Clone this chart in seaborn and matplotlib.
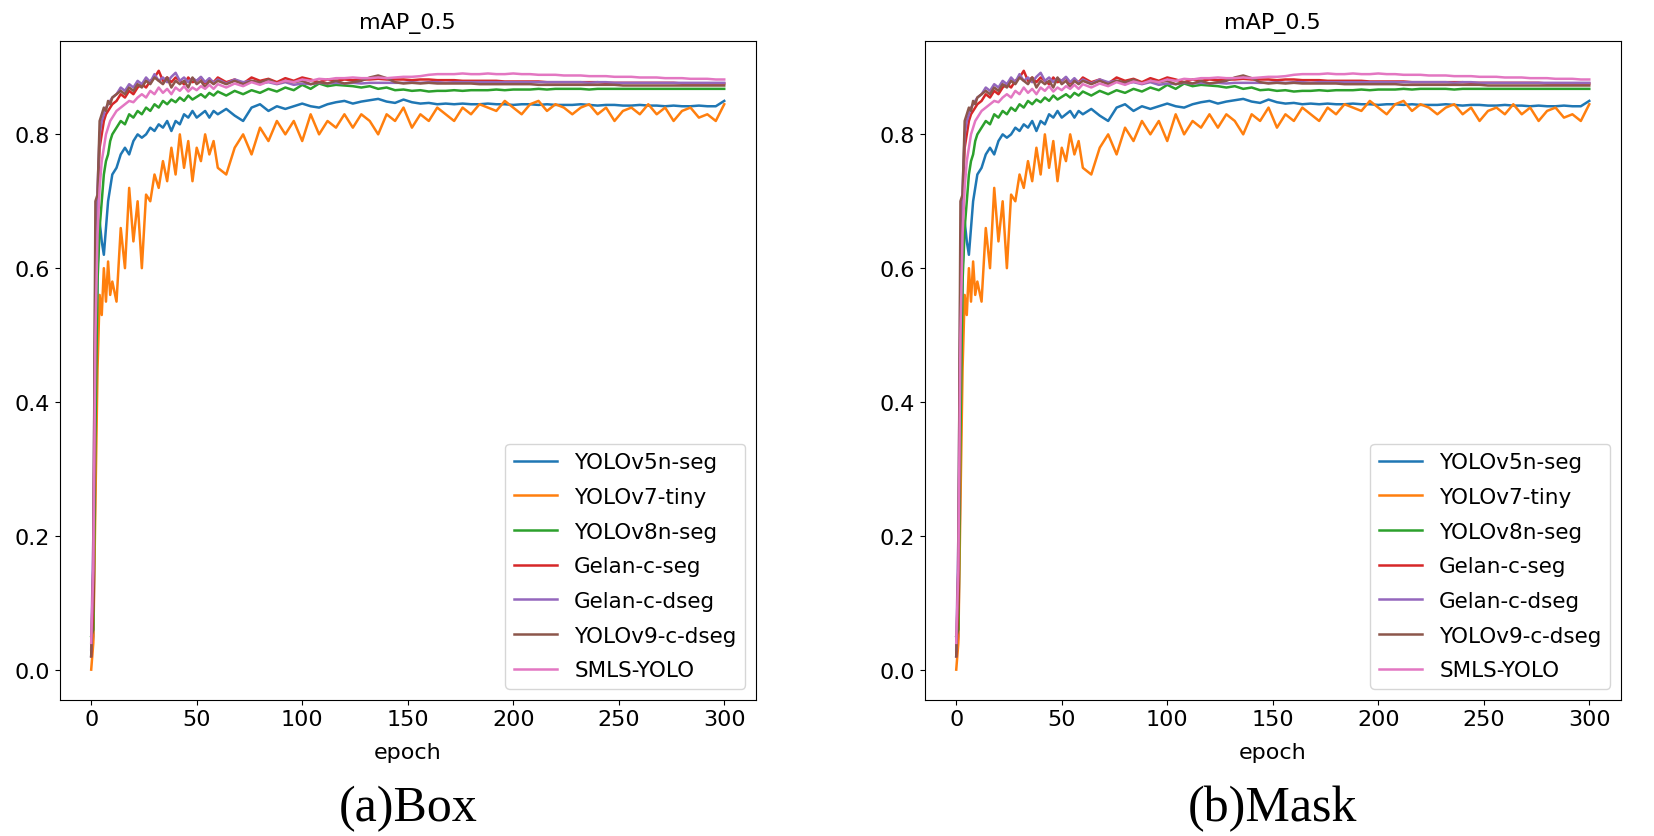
import numpy as np
import pandas as pd
import seaborn as sns
from matplotlib import pyplot as plt

epochs = np.concatenate([np.arange(0, 11), np.arange(12, 61, 2), np.arange(64, 301, 4)])

models = ['YOLOv5n-seg', 'YOLOv7-tiny', 'YOLOv8n-seg', 'Gelan-c-seg',
          'Gelan-c-dseg', 'YOLOv9-c-dseg', 'SMLS-YOLO']

yolov5n = [0.02, 0.05, 0.30, 0.60, 0.67, 0.64, 0.62, 0.66, 0.70, 0.72, 0.74,
           0.75, 0.77, 0.78, 0.77, 0.79, 0.80, 0.795, 0.80, 0.81, 0.805,
           0.815, 0.81, 0.82, 0.805, 0.82, 0.815, 0.83, 0.825, 0.835, 0.825,
           0.83, 0.835, 0.825, 0.835, 0.83,
           0.838, 0.828, 0.82, 0.84, 0.845, 0.835, 0.842, 0.838, 0.842, 0.846,
           0.842, 0.84, 0.845, 0.848, 0.85, 0.846, 0.849, 0.851, 0.853, 0.849,
           0.847, 0.852, 0.848, 0.846, 0.847, 0.845, 0.846, 0.845, 0.846, 0.845,
           0.845, 0.846, 0.845, 0.845, 0.844, 0.845, 0.845, 0.844, 0.845, 0.844,
           0.844, 0.844, 0.845, 0.844, 0.843, 0.844, 0.844, 0.843, 0.843, 0.844,
           0.843, 0.843, 0.842, 0.843, 0.842, 0.842, 0.843, 0.842, 0.842, 0.850]

yolov7_tiny = [0.00, 0.04, 0.25, 0.45, 0.56, 0.53, 0.60, 0.55, 0.61, 0.56, 0.58,
               0.55, 0.66, 0.60, 0.72, 0.64, 0.70, 0.60, 0.71, 0.70, 0.74,
               0.72, 0.76, 0.73, 0.78, 0.74, 0.80, 0.75, 0.79, 0.73, 0.78,
               0.76, 0.80, 0.77, 0.79, 0.75,
               0.74, 0.78, 0.80, 0.77, 0.81, 0.79, 0.82, 0.80, 0.82, 0.79,
               0.83, 0.80, 0.82, 0.81, 0.83, 0.81, 0.83, 0.82, 0.80, 0.83,
               0.82, 0.84, 0.81, 0.83, 0.82, 0.84, 0.83, 0.82, 0.84, 0.83,
               0.845, 0.84, 0.835, 0.85, 0.84, 0.83, 0.845, 0.85, 0.835, 0.845,
               0.84, 0.83, 0.84, 0.845, 0.83, 0.84, 0.82, 0.835, 0.84, 0.83,
               0.845, 0.83, 0.84, 0.82, 0.835, 0.84, 0.825, 0.83, 0.82, 0.845]

yolov8n = [0.05, 0.06, 0.35, 0.58, 0.66, 0.70, 0.74, 0.76, 0.77, 0.79, 0.80,
           0.81, 0.82, 0.815, 0.83, 0.825, 0.835, 0.83, 0.84, 0.835, 0.845,
           0.84, 0.85, 0.845, 0.852, 0.848, 0.855, 0.85, 0.858, 0.852, 0.856,
           0.86, 0.855, 0.862, 0.858, 0.864,
           0.858, 0.865, 0.86, 0.866, 0.862, 0.868, 0.864, 0.87, 0.866, 0.874,
           0.868, 0.876, 0.872, 0.874, 0.873, 0.872, 0.87, 0.872, 0.868, 0.87,
           0.866, 0.867, 0.865, 0.866, 0.864, 0.865, 0.865, 0.866, 0.865, 0.866,
           0.866, 0.866, 0.867, 0.866, 0.867, 0.867, 0.867, 0.868, 0.867, 0.868,
           0.868, 0.868, 0.868, 0.867, 0.868, 0.868, 0.868, 0.868, 0.868, 0.868,
           0.868, 0.868, 0.868, 0.868, 0.868, 0.868, 0.868, 0.868, 0.868, 0.868]

gelan_seg = [0.02, 0.10, 0.55, 0.70, 0.78, 0.80, 0.82, 0.83, 0.835, 0.84, 0.845,
             0.85, 0.86, 0.855, 0.865, 0.86, 0.87, 0.875, 0.87, 0.88, 0.885,
             0.895, 0.88, 0.885, 0.878, 0.885, 0.88, 0.875, 0.885, 0.878, 0.88,
             0.885, 0.876, 0.882, 0.878, 0.885,
             0.878, 0.882, 0.876, 0.885, 0.88, 0.883, 0.878, 0.884, 0.88, 0.885,
             0.882, 0.878, 0.882, 0.88, 0.882, 0.881, 0.882, 0.882, 0.883, 0.882,
             0.882, 0.882, 0.881, 0.882, 0.882, 0.881, 0.881, 0.881, 0.880, 0.880,
             0.880, 0.880, 0.880, 0.879, 0.879, 0.879, 0.879, 0.879, 0.878, 0.878,
             0.878, 0.878, 0.878, 0.878, 0.878, 0.877, 0.877, 0.877, 0.877, 0.877,
             0.877, 0.877, 0.877, 0.877, 0.876, 0.876, 0.876, 0.876, 0.876, 0.876]

gelan_dseg = [0.03, 0.20, 0.60, 0.72, 0.80, 0.82, 0.83, 0.84, 0.845, 0.85, 0.855,
              0.86, 0.87, 0.865, 0.875, 0.87, 0.88, 0.875, 0.885, 0.878, 0.89,
              0.88, 0.885, 0.878, 0.886, 0.892, 0.88, 0.885, 0.878, 0.884, 0.88,
              0.886, 0.878, 0.884, 0.877, 0.882,
              0.876, 0.882, 0.878, 0.88, 0.876, 0.878, 0.875, 0.878, 0.874, 0.876,
              0.875, 0.877, 0.876, 0.877, 0.876, 0.877, 0.876, 0.877, 0.877, 0.877,
              0.877, 0.877, 0.878, 0.877, 0.878, 0.878, 0.877, 0.878, 0.878, 0.878,
              0.878, 0.878, 0.878, 0.878, 0.878, 0.878, 0.878, 0.878, 0.878, 0.878,
              0.878, 0.878, 0.878, 0.877, 0.878, 0.878, 0.877, 0.877, 0.877, 0.877,
              0.877, 0.877, 0.877, 0.877, 0.877, 0.877, 0.877, 0.877, 0.877, 0.877]

yolov9_dseg = [0.02, 0.15, 0.70, 0.71, 0.82, 0.83, 0.84, 0.835, 0.85, 0.845, 0.855,
               0.86, 0.865, 0.86, 0.87, 0.865, 0.875, 0.87, 0.88, 0.875, 0.885,
               0.88, 0.875, 0.885, 0.87, 0.88, 0.875, 0.88, 0.87, 0.885, 0.875,
               0.88, 0.87, 0.88, 0.875, 0.88,
               0.875, 0.88, 0.875, 0.88, 0.878, 0.882, 0.876, 0.88, 0.878, 0.88,
               0.875, 0.878, 0.876, 0.88, 0.876, 0.878, 0.88, 0.885, 0.888, 0.884,
               0.878, 0.876, 0.877, 0.876, 0.877, 0.876, 0.876, 0.876, 0.876, 0.876,
               0.875, 0.875, 0.875, 0.875, 0.875, 0.875, 0.875, 0.874, 0.874, 0.874,
               0.874, 0.874, 0.874, 0.874, 0.874, 0.874, 0.874, 0.873, 0.873, 0.873,
               0.873, 0.873, 0.873, 0.873, 0.873, 0.873, 0.873, 0.873, 0.873, 0.873]

smls_yolo = [0.04, 0.15, 0.50, 0.65, 0.72, 0.76, 0.78, 0.80, 0.81, 0.82, 0.825,
             0.835, 0.84, 0.845, 0.85, 0.848, 0.855, 0.86, 0.855, 0.865, 0.86,
             0.87, 0.862, 0.868, 0.86, 0.87, 0.865, 0.872, 0.864, 0.87, 0.866,
             0.872, 0.868, 0.874, 0.868, 0.875,
             0.87, 0.876, 0.872, 0.878, 0.874, 0.879, 0.876, 0.88, 0.878, 0.882,
             0.88, 0.883, 0.882, 0.884, 0.884, 0.885, 0.884, 0.884, 0.885, 0.884,
             0.885, 0.886, 0.886, 0.887, 0.889, 0.89, 0.89, 0.89, 0.891, 0.89,
             0.89, 0.891, 0.89, 0.89, 0.891, 0.89, 0.89, 0.889, 0.889, 0.889,
             0.888, 0.888, 0.888, 0.887, 0.887, 0.887, 0.886, 0.886, 0.886, 0.885,
             0.885, 0.885, 0.884, 0.884, 0.884, 0.883, 0.883, 0.883, 0.882, 0.882]

panels = ['(a)Box', '(b)Mask']


def build_frame():
    series = [yolov5n, yolov7_tiny, yolov8n, gelan_seg, gelan_dseg, yolov9_dseg, smls_yolo]
    frames = []
    for name, vals in zip(models, series):
        frames.append(pd.DataFrame({'epoch': epochs, 'mAP_0.5': vals, 'model': name}))
    return pd.concat(frames, ignore_index=True)


if __name__ == '__main__':
    df = build_frame()
    palette = sns.color_palette('tab10', len(models))

    fig = plt.figure(figsize=(16.54, 8.37), dpi=100)
    lefts = [0.036, 0.559]
    for left, caption in zip(lefts, panels):
        ax = fig.add_axes([left, 0.163, 0.421, 0.787])
        sns.lineplot(data=df, x='epoch', y='mAP_0.5', hue='model', hue_order=models,
                     palette=palette, linewidth=1.8, ax=ax)
        ax.set_title('mAP_0.5', fontsize=16, pad=9)
        ax.set_xlabel('epoch', fontsize=16, labelpad=9)
        ax.set_ylabel('')
        ax.set_xticks([0, 50, 100, 150, 200, 250, 300])
        ax.set_yticks([0.0, 0.2, 0.4, 0.6, 0.8])
        ax.tick_params(labelsize=16)
        ax.legend(loc='lower right', fontsize=15.5, labelspacing=0.68)
        fig.text(left + 0.2105, 0.033, caption, ha='center', va='center',
                 family='Liberation Serif', fontsize=36)

    plt.savefig('out.png', dpi=100)
